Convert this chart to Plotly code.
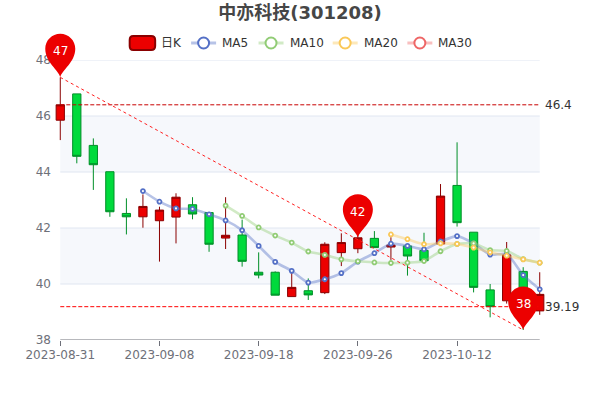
import plotly.graph_objects as go

FONT = "DejaVu Sans, Noto Sans CJK SC, sans-serif"

dates = ["2023-08-31","2023-09-01","2023-09-04","2023-09-05","2023-09-06","2023-09-07","2023-09-08",
         "2023-09-11","2023-09-12","2023-09-13","2023-09-14","2023-09-15","2023-09-18","2023-09-19",
         "2023-09-20","2023-09-21","2023-09-22","2023-09-25","2023-09-26","2023-09-27","2023-09-28",
         "2023-10-09","2023-10-10","2023-10-11","2023-10-12","2023-10-13","2023-10-16","2023-10-17",
         "2023-10-18","2023-10-19"]
open_ = [45.85,46.79,44.95,44.01,42.52,42.40,42.26,42.39,42.83,42.55,41.64,41.75,40.42,40.42,39.55,39.76,
         39.69,41.12,41.26,41.63,41.32,41.36,41.20,41.43,43.52,41.85,39.79,39.40,40.45,39.04]
close = [46.40,44.56,44.26,42.58,42.40,42.77,42.64,43.10,42.50,41.42,41.74,40.81,40.32,39.60,39.88,39.61,
         41.42,41.48,41.65,41.30,41.39,41.00,40.83,43.14,42.19,39.88,39.19,41.04,39.30,39.63]
high =  [47.38,46.79,45.20,44.01,43.06,43.20,42.76,43.24,43.10,42.55,43.10,42.30,41.13,40.45,40.47,40.20,
         41.49,41.81,41.90,41.89,41.67,41.40,41.83,43.57,45.06,41.85,40.00,41.50,40.60,40.42]
low =   [45.14,44.31,43.36,42.40,41.77,42.01,40.80,41.45,42.31,41.15,41.25,40.62,40.20,39.60,39.55,39.43,
         39.64,40.64,41.10,41.30,40.86,40.30,40.75,41.40,42.05,39.70,38.81,39.30,38.36,38.90]
ma5 = [None]*5 + [43.32,42.94,42.70,42.68,42.49,42.27,41.92,41.36,40.79,40.47,40.05,40.17,40.39,40.80,41.10,
                  41.44,41.36,41.24,41.52,41.71,41.45,41.05,41.07,40.32,39.81]
ma10 = [None]*10 + [42.80,42.43,42.02,41.73,41.48,41.16,41.04,40.88,40.81,40.77,40.75,40.76,40.82,41.17,41.43,
                    41.45,41.21,41.18,40.89,40.76]
ma20 = [None]*20 + [41.77,41.60,41.42,41.45,41.43,41.30,41.13,41.01,40.88,40.76]
ma30 = [None]*30
max_close = 46.4
min_close = 39.19
pin_high = 47.38
pin_mid = 41.65
pin_low = 38.36
pin_labels = ["47", "42", "38"]
y_ticks = [38, 40, 42, 44, 46, 48]
x_tick_idx = [0, 6, 12, 18, 24]
legend_names = ["日K", "MA5", "MA10", "MA20", "MA30"]
line_colors = ["#5470c6", "#91cc75", "#fac858", "#ee6666"]
line_rgba = ["rgba(84,112,198,0.42)", "rgba(145,204,117,0.42)", "rgba(250,200,88,0.42)", "rgba(238,102,102,0.42)"]

W, H = 600, 400
step = 480 / 29
ML = 60 - step / 2
MR = W - 540 - step / 2
PW = W - ML - MR
MT, MB = 60, 60
PH = H - MT - MB
Y_MIN, Y_MAX = y_ticks[0], y_ticks[-1]


def px(x):
    return (x - ML) / PW


def py(y):
    return (H - MB - y) / PH


fig = go.Figure()
fig.add_trace(go.Candlestick(
    x=dates, open=open_, close=close, high=high, low=low, name="日K", whiskerwidth=0,
    increasing=dict(fillcolor="#ec0000", line=dict(color="#8A0000", width=1)),
    decreasing=dict(fillcolor="#00da3c", line=dict(color="#008F28", width=1)),
    showlegend=False, hoverinfo="skip"))
for name, vals, c, rg in zip(legend_names[1:], [ma5, ma10, ma20, ma30], line_colors, line_rgba):
    fig.add_trace(go.Scatter(
        x=dates, y=vals, name=name, mode="lines+markers", connectgaps=False,
        line=dict(color=rg, width=2.6, shape="spline", smoothing=0.6),
        marker=dict(symbol="circle", size=4, color="white", line=dict(color=c, width=1.8)),
        showlegend=False, hoverinfo="skip"))

dash = "4px,2px"
fig.add_trace(go.Scatter(x=[dates[0], dates[-1]], y=[max_close, max_close], mode="lines",
                         line=dict(color="#c80000", width=1, dash=dash), showlegend=False, hoverinfo="skip"))
fig.add_trace(go.Scatter(x=[dates[0], dates[-1]], y=[min_close, min_close], mode="lines",
                         line=dict(color="#ff0000", width=1, dash=dash), showlegend=False, hoverinfo="skip"))
fig.add_trace(go.Scatter(x=[dates[0], dates[28]], y=[pin_high, pin_low], mode="lines",
                         line=dict(color="#ff2020", width=1, dash="3px,3px"), showlegend=False, hoverinfo="skip"))

shapes = []
for lo, hi in [(44, 46), (40, 42)]:
    shapes.append(dict(type="rect", xref="x", yref="y", x0=dates[0], x1=dates[-1], y0=lo, y1=hi,
                       fillcolor="#f6f8fc", line_width=0, layer="below"))
for t in y_ticks[1:]:
    shapes.append(dict(type="line", xref="x", yref="y", x0=dates[0], x1=dates[-1], y0=t, y1=t,
                       line=dict(color="#E0E6F1", width=1), layer="below"))
shapes.append(dict(type="line", xref="x", yref="y", x0=dates[0], x1=dates[-1], y0=38, y1=38,
                   line=dict(color="#6E7079", width=1), layer="above"))

R = 15
K = 8.3
CY = 28.5
PIN = (f"M 0 0 C -1.5 7 -{R} 15 -{R} {CY} "
       f"C -{R} {CY+K} -{K} {CY+R} 0 {CY+R} C {K} {CY+R} {R} {CY+K} {R} {CY} "
       f"C {R} 15 1.5 7 0 0 Z")
pins = [(0, pin_high), (18, pin_mid), (28, pin_low)]
annotations = []
for (i, v), lab in zip(pins, pin_labels):
    # anchored in paper space so the pin is not clipped by the plot area
    ax = (i + 0.5) / len(dates)
    ay = (v - Y_MIN) / (Y_MAX - Y_MIN)
    shapes.append(dict(type="path", xref="paper", yref="paper", xsizemode="pixel", ysizemode="pixel",
                       xanchor=ax, yanchor=ay, path=PIN, fillcolor="#ec0000", line_width=0, layer="above"))
    annotations.append(dict(x=dates[i], y=v, xref="x", yref="y", text=lab, showarrow=False, yshift=26,
                            font=dict(family=FONT, size=12, color="#ffffff")))

for v, lab in [(max_close, "46.4"), (min_close, "39.19")]:
    annotations.append(dict(x=dates[-1], y=v, xref="x", yref="y", text=lab, showarrow=False, xanchor="left",
                            xshift=3, font=dict(family=FONT, size=12, color="#333333")))

LY = 43
shapes.append(dict(type="path", xref="paper", yref="paper", layer="above", fillcolor="#ec0000",
                   line=dict(color="#8A0000", width=2),
                   path=" ".join([
                       f"M {px(133)} {py(36)} L {px(151)} {py(36)}",
                       f"Q {px(155)} {py(36)} {px(155)} {py(40)} L {px(155)} {py(46)}",
                       f"Q {px(155)} {py(50)} {px(151)} {py(50)} L {px(133)} {py(50)}",
                       f"Q {px(129.5)} {py(50)} {px(129.5)} {py(46)} L {px(129.5)} {py(40)}",
                       f"Q {px(129.5)} {py(36)} {px(133)} {py(36)} Z"])))
annotations.append(dict(x=px(159), y=py(LY), xref="paper", yref="paper", text=legend_names[0], showarrow=False,
                        xanchor="left", yanchor="middle", font=dict(family=FONT, size=12, color="#333333")))
for name, x0, c, rg in zip(legend_names[1:], [191, 258.5, 332.7, 407.5], line_colors, line_rgba):
    shapes.append(dict(type="line", xref="paper", yref="paper", x0=px(x0), x1=px(x0 + 25), y0=py(LY), y1=py(LY),
                       line=dict(color=rg, width=3), layer="above"))
    shapes.append(dict(type="circle", xref="paper", yref="paper", x0=px(x0 + 7), x1=px(x0 + 18),
                       y0=py(LY + 5.5), y1=py(LY - 5.5), fillcolor="white",
                       line=dict(color=c, width=2), layer="above"))
    annotations.append(dict(x=px(x0 + 29), y=py(LY), xref="paper", yref="paper", text=name, showarrow=False,
                            xanchor="left", yanchor="middle", font=dict(family=FONT, size=12, color="#333333")))

fig.update_layout(
    width=W, height=H, autosize=False, paper_bgcolor="white", plot_bgcolor="rgba(0,0,0,0)",
    margin=dict(l=ML, r=MR, t=MT, b=MB, pad=0),
    title=dict(text="中亦科技(301208)", x=0.5, xanchor="center", xref="container", y=1 - 13 / H, yanchor="middle",
               font=dict(family=FONT, size=18, color="#464646", weight=700)),
    boxgap=0.5, boxgroupgap=0, showlegend=False, shapes=shapes, annotations=annotations,
    xaxis=dict(type="category", categoryorder="array", categoryarray=dates, range=[-0.5, 29.5],
               rangeslider=dict(visible=False), showgrid=False, zeroline=False, showline=False,
               tickmode="array", tickvals=[dates[i] for i in x_tick_idx], ticktext=[dates[i] for i in x_tick_idx],
               ticks="outside", ticklen=5, tickcolor="#6E7079", tickwidth=1, ticklabelstandoff=-1,
               tickfont=dict(family=FONT, size=12, color="#6E7079"), automargin=False),
    yaxis=dict(range=[Y_MIN, Y_MAX], showgrid=False, zeroline=False, showline=False, tickmode="array", tickvals=y_ticks,
               ticks="", tickfont=dict(family=FONT, size=12, color="#6E7079"), automargin=False),
)
fig.write_html("out.html", config=dict(displayModeBar=False),
               post_script="document.body.style.margin='0';")
